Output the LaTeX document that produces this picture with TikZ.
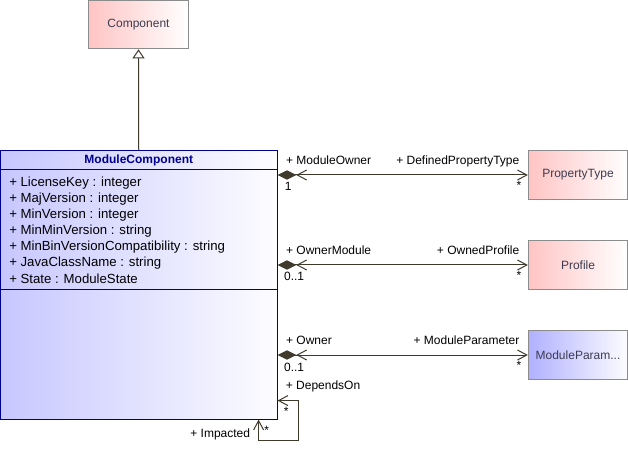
\documentclass[tikz,border=0pt]{standalone}
\usepackage{fontspec}
\setmainfont{Liberation Sans}
\usepackage{tikz}
\usetikzlibrary{arrows.meta,positioning,calc}
\definecolor{umlnavy}{HTML}{000090}
\definecolor{umlline}{HTML}{3F3A2C}
\definecolor{umlpink}{HTML}{FFC4C4}
\definecolor{umlblue}{HTML}{C4C4FF}
\definecolor{umlgray}{HTML}{8C8C8C}
\definecolor{umltext}{HTML}{3C3C50}

\begin{document}
\begin{tikzpicture}[
    x=0.75pt, y=-0.75pt,
    every node/.style={font=\fontsize{9}{11}\selectfont},
    cls/.style={rectangle, draw=umlgray, line width=0.75pt, left color=umlpink, right color=white, text=umltext, minimum width=74.5pt, minimum height=36.5pt},
    pcls/.style={cls, left color=umlblue!90!blue, right color=white!96!umlblue},
    mainCls/.style={rectangle, draw=umlnavy, line width=0.75pt, left color=umlblue!95!white, right color=white!96!umlblue, minimum width=207.5pt, minimum height=201.5pt},
    attr/.style={anchor=west, inner sep=0pt, font=\fontsize{9.9}{11}\selectfont},
    role/.style={inner sep=0pt, text=black},
    gen/.style={-{Triangle[open, length=6.75pt, width=9pt, fill=white]}, umlline, line width=0.75pt},
    comp/.style={{Diamond[length=14pt, width=7pt, fill=umlline]Straight Barb[length=7pt, width=7.5pt]}-{Straight Barb[length=7pt, width=7.5pt]}, umlline, line width=0.75pt},
    nav/.style={{Straight Barb[length=7pt, width=7.5pt]}-{Straight Barb[length=7pt, width=7.5pt]}, umlline, line width=0.75pt}
]
    \useasboundingbox (0,0) rectangle (628,463);

    \node[cls] (comp) at (138.5,24.5) {Component};
    \node[mainCls] (mc) at (138.75,284.75) {};
    \node[font=\fontsize{9}{11}\selectfont\bfseries, text=umlnavy] (mchead) at (138.75,160.5) {ModuleComponent};
    \draw[umlnavy, line width=0.75pt] ($(mc.north west)+(0,20)$) -- ($(mc.north east)+(0,20)$);
    \draw[umlnavy, line width=0.75pt] ($(mc.north west)+(0,140)$) -- ($(mc.north east)+(0,140)$);

    \foreach \i/\txt in {0/{+ LicenseKey : integer},
                         1/{+ MajVersion : integer},
                         2/{+ MinVersion : integer},
                         3/{+ MinMinVersion : string},
                         4/{+ MinBinVersionCompatibility : string},
                         5/{+ JavaClassName : string},
                         6/{+ State : ModuleState}}
        \node[attr] (a\i) at (9,183+16*\i) {\txt};

    \node[cls] (pt) at (578,175) {PropertyType};
    \node[cls] (prof) at (578,265) {Profile};
    \node[pcls] (mpar) at (578,355) {ModuleParam...};

    \draw[gen] (mc.north) -- (comp.south);

    \draw[comp] (mc.east |- pt.west) -- (pt.west)
        node[role, pos=0, anchor=base west, xshift=6pt, yshift=8pt] {+ ModuleOwner}
        node[role, pos=0, anchor=base west, xshift=5pt, yshift=-12pt] {1}
        node[role, pos=1, anchor=base east, xshift=-6pt, yshift=8pt] {+ DefinedPropertyType}
        node[role, pos=1, anchor=base east, xshift=-4.5pt, yshift=-11pt] {*};
    \draw[comp] (mc.east |- prof.west) -- (prof.west)
        node[role, pos=0, anchor=base west, xshift=6pt, yshift=8pt] {+ OwnerModule}
        node[role, pos=0, anchor=base west, xshift=4.5pt, yshift=-12pt] {0..1}
        node[role, pos=1, anchor=base east, xshift=-6pt, yshift=8pt] {+ OwnedProfile}
        node[role, pos=1, anchor=base east, xshift=-4.5pt, yshift=-11pt] {*};
    \draw[comp] (mc.east |- mpar.west) -- (mpar.west)
        node[role, pos=0, anchor=base west, xshift=6pt, yshift=8pt] {+ Owner}
        node[role, pos=0, anchor=base west, xshift=4.5pt, yshift=-12pt] {0..1}
        node[role, pos=1, anchor=base east, xshift=-6pt, yshift=8pt] {+ ModuleParameter}
        node[role, pos=1, anchor=base east, xshift=-4.5pt, yshift=-11pt] {*};

    \coordinate (selfA) at ($(mc.south east)+(0,-19)$);
    \coordinate (selfB) at ($(mc.south east)+(-19,0)$);
    \draw[nav] (selfA) -- ++(21,0) -- ++(0,40) -- ++(-40,0) -- (selfB)
        node[role, pos=1, anchor=base east, xshift=-6pt, yshift=-13.5pt] {+ Impacted}
        node[role, pos=1, anchor=base west, xshift=4pt, yshift=-11pt] {*};
    \node[role, anchor=base west] (dep) at ($(selfA)+(8,-11)$) {+ DependsOn};
    \node[role, anchor=base west] (depm) at ($(selfA)+(6,15)$) {*};
\end{tikzpicture}
\end{document}
